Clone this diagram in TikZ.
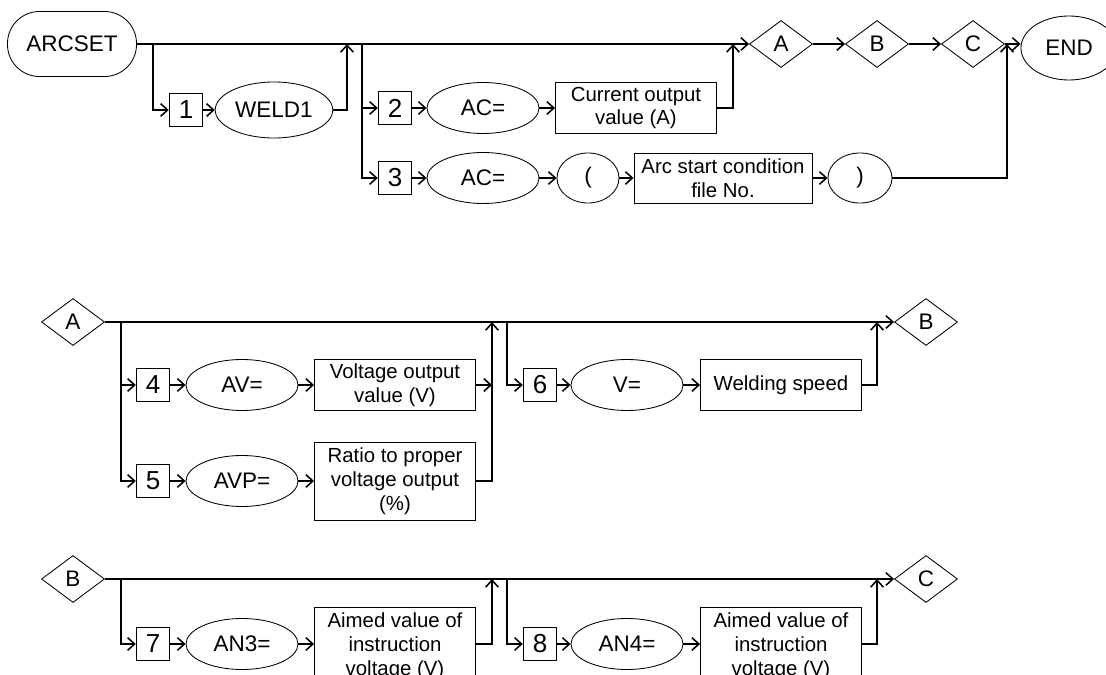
\documentclass[tikz,border=0pt]{standalone}
\usepackage{fontspec}
\setmainfont{Liberation Sans}
\usetikzlibrary{arrows.meta,shapes.geometric}

\begin{document}
\begin{tikzpicture}[
    x=0.025cm, y=-0.025cm,
    every node/.style={font=\fontsize{14.5}{17}\selectfont, inner sep=2pt, align=center},
    big/.style={font=\fontsize{16}{19}\selectfont},
    stadium/.style={rectangle, draw, line width=0.6pt, rounded corners=0.8cm, minimum width=3.225cm, minimum height=1.625cm, big},
    numbox/.style={rectangle, draw, line width=1pt, minimum width=0.825cm, minimum height=0.825cm, inner sep=0pt, font=\fontsize{18.5}{20}\selectfont},
    oval/.style={ellipse, draw, line width=0.6pt, minimum width=2.8cm, minimum height=1.275cm, big},
    field/.style={rectangle, draw, line width=0.6pt, minimum width=4.025cm, minimum height=1.275cm},
    gate/.style={diamond, draw, line width=0.6pt, aspect=1.34, minimum width=1.575cm, minimum height=1.175cm, inner sep=0pt, big},
    flow/.style={line width=1.1pt},
    go/.style={flow, -{Straight Barb[length=5pt,width=9pt]}}
]
    \useasboundingbox (0,0) rectangle (1106,675);
    \clip (0,0) rectangle (1106,675);

    % ARCSET line
    \node[stadium] (arcset) at (72,44) {ARCSET};
    \node[numbox] (n1) at (186,110) {1};
    \node[oval, minimum height=1.4cm] (weld) at (274,110) {WELD1};
    \node[numbox] (n2) at (395,108) {2};
    \node[oval] (ac2) at (483,108) {AC=};
    \node[field] (cur) at (636,108) {Current output\\value (A)};
    \node[numbox] (n3) at (395,178) {3};
    \node[oval] (ac3) at (483,178) {AC=};
    \node[oval, minimum width=1.55cm, minimum height=1.25cm] (lp) at (588,178) {(};
    \node[field, minimum width=4.45cm, minimum height=1.25cm] (arcfile) at (723,178) {Arc start condition\\file No.};
    \node[oval, minimum width=1.6cm, minimum height=1.25cm] (rp) at (860,178) {)};
    \node[gate] (dA) at (781,44) {A};
    \node[gate] (dB) at (877,44) {B};
    \node[gate] (dC) at (973,44) {C};
    \node[ellipse, draw, line width=0.6pt, minimum width=2.4cm, minimum height=1.6cm, big] (end) at (1069,48) {END};

    \coordinate (j1) at (153,44);
    \coordinate (k1) at (347,44);
    \coordinate (j2) at (362,44);
    \coordinate (k2) at (733,44);
    \coordinate (k3) at (1007,44);

    \draw[go] (arcset) -- (dA);
    \draw[go] (j1) |- (n1);
    \draw[go] (n1) -- (weld);
    \draw[go] (weld) -| (k1);
    \draw[go] (j2) |- (n2);
    \draw[go] (n2) -- (ac2);
    \draw[go] (ac2) -- (cur);
    \draw[go] (cur) -| (k2);
    \draw[go] (j2) |- (n3);
    \draw[go] (n3) -- (ac3);
    \draw[go] (ac3) -- (lp);
    \draw[go] (lp) -- (arcfile);
    \draw[go] (arcfile) -- (rp);
    \draw[go] (rp) -| (k3);
    \draw[go] (dA) -- (dB);
    \draw[go] (dB) -- (dC);
    \draw[go] (dC.east) -- (dC.east -| end.west);

    % A block
    \node[gate] (a2) at (73,322) {A};
    \node[numbox] (n4) at (153,385) {4};
    \node[oval] (av) at (242,385) {AV=};
    \node[field] (volt) at (395,385) {Voltage output\\value (V)};
    \node[numbox] (n5) at (153,481) {5};
    \node[oval] (avp) at (242,481) {AVP=};
    \node[field, minimum height=1.95cm] (ratio) at (395,481) {Ratio to proper\\voltage output\\(\%)};
    \node[numbox] (n6) at (540,385) {6};
    \node[oval] (v) at (627,385) {V=};
    \node[field] (speed) at (781,385) {Welding speed};
    \node[gate] (b2) at (926,322) {B};

    \coordinate (j4) at (121,322);
    \coordinate (k4) at (492,322);
    \coordinate (m4) at (492,385);
    \coordinate (j6) at (507,322);
    \coordinate (k6) at (877,322);

    \draw[go] (a2) -- (b2);
    \draw[go] (j4) |- (n4);
    \draw[go] (n4) -- (av);
    \draw[go] (av) -- (volt);
    \draw[go] (volt) -- (m4);
    \draw[go] (j4) |- (n5);
    \draw[go] (n5) -- (avp);
    \draw[go] (avp) -- (ratio);
    \draw[go] (ratio) -| (k4);
    \draw[go] (j6) |- (n6);
    \draw[go] (n6) -- (v);
    \draw[go] (v) -- (speed);
    \draw[go] (speed) -| (k6);

    % B block
    \node[gate] (b3) at (73,579) {B};
    \node[numbox] (n7) at (153,644) {7};
    \node[oval] (an3) at (242,644) {AN3=};
    \node[field, minimum height=1.95cm] (aim3) at (395,646) {Aimed value of\\instruction\\voltage (V)};
    \node[numbox] (n8) at (540,644) {8};
    \node[oval] (an4) at (627,644) {AN4=};
    \node[field, minimum height=1.95cm] (aim4) at (781,646) {Aimed value of\\instruction\\voltage (V)};
    \node[gate] (c3) at (926,579) {C};

    \coordinate (j7) at (121,579);
    \coordinate (k7) at (492,579);
    \coordinate (j8) at (507,579);
    \coordinate (k8) at (877,579);

    \draw[go] (b3) -- (c3);
    \draw[go] (j7) |- (n7);
    \draw[go] (n7) -- (an3);
    \draw[go] (an3) -- (an3 -| aim3.west);
    \draw[go] (an3 -| aim3.east) -| (k7);
    \draw[go] (j8) |- (n8);
    \draw[go] (n8) -- (an4);
    \draw[go] (an4) -- (an4 -| aim4.west);
    \draw[go] (an4 -| aim4.east) -| (k8);
\end{tikzpicture}
\end{document}
